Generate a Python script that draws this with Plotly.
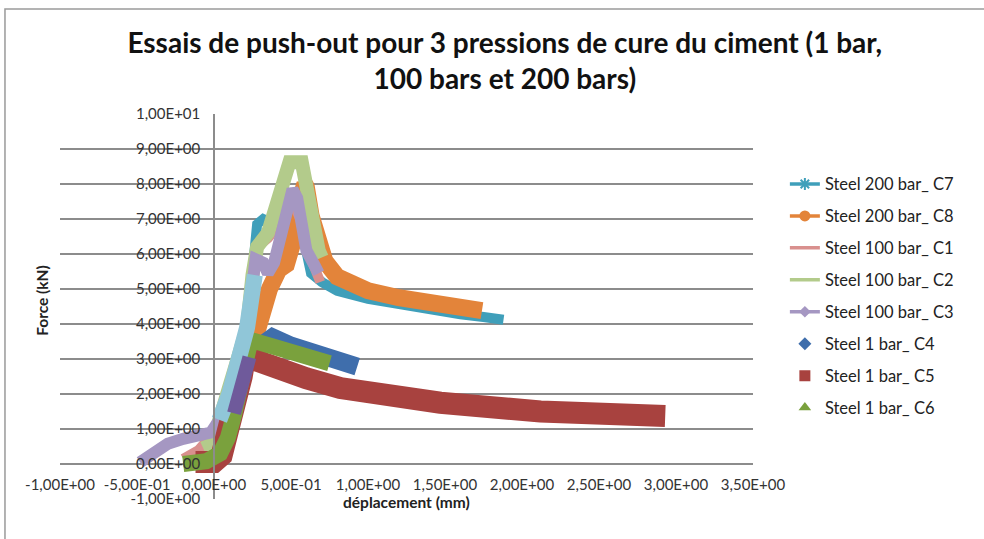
import plotly.graph_objects as go

# displacement (mm) / force (kN), one pair of lists per test
c7_x = [-0.05, 0.035, 0.1, 0.215, 0.24, 0.26, 0.28, 0.32, 0.37, 0.41, 0.45, 0.51, 0.54, 0.56, 0.6, 0.63, 0.7, 0.8, 1.0, 1.2, 1.4, 1.6, 1.75, 1.88]
c7_y = [0.1, 1.26, 2.0, 3.9, 5.0, 6.0, 6.85, 7.0, 6.9, 7.0, 6.8, 7.6, 7.4, 6.9, 6.0, 5.45, 5.2, 4.95, 4.72, 4.55, 4.4, 4.28, 4.2, 4.12]

c8_x = [0.22, 0.25, 0.3, 0.36, 0.42, 0.47, 0.51, 0.54, 0.59, 0.6, 0.63, 0.67, 0.72, 0.8, 0.9, 1.0, 1.2, 1.4, 1.6, 1.74]
c8_y = [2.9, 3.4, 4.2, 5.0, 5.55, 5.7, 6.3, 7.3, 8.0, 7.9, 7.1, 6.4, 5.8, 5.35, 5.1, 4.95, 4.75, 4.6, 4.47, 4.38]

c1_x = [-0.2, -0.1, 0.0, 0.035, 0.1, 0.215, 0.25, 0.28, 0.35, 0.45, 0.51, 0.56, 0.6, 0.65, 0.69]
c1_y = [0.15, 0.4, 0.9, 1.26, 2.0, 3.9, 5.5, 6.2, 6.45, 7.0, 7.5, 7.0, 6.2, 5.6, 5.2]

c2_x = [-0.07, -0.02, 0.01, 0.035, 0.1, 0.215, 0.25, 0.28, 0.35, 0.42, 0.49, 0.57, 0.6, 0.64, 0.68, 0.7]
c2_y = [0.45, 0.55, 0.9, 1.26, 2.0, 3.9, 5.4, 6.2, 6.6, 7.6, 8.62, 8.62, 7.8, 6.8, 6.1, 5.9]

c3_x = [-0.48, -0.4, -0.3, -0.2, -0.1, -0.02, 0.035, 0.1, 0.215, 0.245, 0.27, 0.32, 0.35, 0.39, 0.45, 0.51, 0.54, 0.56, 0.6, 0.65, 0.68]
c3_y = [0.05, 0.3, 0.58, 0.72, 0.8, 0.9, 1.26, 2.0, 3.9, 5.2, 5.85, 5.75, 5.45, 5.75, 6.8, 7.85, 7.6, 6.9, 6.1, 5.7, 5.45]

c4_x = [0.28, 0.38, 0.5, 0.65, 0.8, 0.9, 0.93]
c4_y = [3.3, 3.62, 3.38, 3.17, 2.98, 2.85, 2.78]

c5_x = [-0.12, 0.0, 0.05, 0.08, 0.115, 0.18, 0.21, 0.24, 0.28, 0.4, 0.6, 0.82, 1.0, 1.47, 2.12, 2.5, 2.93]
c5_y = [0.06, 0.06, 0.25, 0.7, 1.5, 2.5, 3.3, 3.55, 2.95, 2.7, 2.45, 2.17, 2.03, 1.75, 1.5, 1.42, 1.37]

c6_x = [-0.2, -0.05, 0.04, 0.09, 0.13, 0.18, 0.23, 0.27, 0.45, 0.6, 0.75]
c6_y = [0.0, 0.08, 0.3, 0.75, 1.4, 2.5, 3.4, 3.5, 3.25, 3.07, 2.88]

# two unlabelled series that show in the plot but not in the legend
extra_blue_x = [0.035, 0.1, 0.215, 0.265]
extra_blue_y = [1.26, 2.0, 3.9, 5.4]
extra_purple_x = [0.13, 0.2, 0.23]
extra_purple_y = [1.45, 2.5, 3.05]

y_ticks = [10, 9, 8, 7, 6, 5, 4, 3, 2, 1, 0, -1]
y_labels = ["1,00E+01", "9,00E+00", "8,00E+00", "7,00E+00", "6,00E+00", "5,00E+00",
            "4,00E+00", "3,00E+00", "2,00E+00", "1,00E+00", "0,00E+00", "-1,00E+00"]
x_ticks = [-1, -0.5, 0, 0.5, 1, 1.5, 2, 2.5, 3, 3.5]
x_labels = ["-1,00E+00", "-5,00E-01", "0,00E+00", "5,00E-01", "1,00E+00",
            "1,50E+00", "2,00E+00", "2,50E+00", "3,00E+00", "3,50E+00"]

FONT = "Lato, 'Open Sans', sans-serif"
GRID = "#8c8c8c"

series = [
    # name, x, y, colour, band width, legend style
    ("Steel 200 bar_ C7", c7_x, c7_y, "#3f9fba", 10, dict(mode="lines+markers", marker=dict(symbol="asterisk-open", size=10, line=dict(width=2, color="#3f9fba")))),
    ("Steel 200 bar_ C8", c8_x, c8_y, "#e3843a", 17, dict(mode="lines+markers", marker=dict(symbol="circle", size=11))),
    ("Steel 100 bar_ C1", c1_x, c1_y, "#d9908e", 10, dict(mode="lines")),
    ("Steel 100 bar_ C2", c2_x, c2_y, "#b3cb8b", 14, dict(mode="lines")),
    ("Steel 100 bar_ C3", c3_x, c3_y, "#a597c2", 12, dict(mode="lines+markers", marker=dict(symbol="diamond", size=9))),
    ("Steel 1 bar_ C4", c4_x, c4_y, "#3f6eac", 18, dict(mode="markers", marker=dict(symbol="diamond", size=10))),
    ("Steel 1 bar_ C5", c5_x, c5_y, "#a8423f", 22, dict(mode="markers", marker=dict(symbol="square", size=11))),
    ("Steel 1 bar_ C6", c6_x, c6_y, "#7aa13d", 16, dict(mode="markers", marker=dict(symbol="triangle-up", size=11))),
]

fig = go.Figure()

for name, xs, ys, color, width, _ in series:
    fig.add_trace(go.Scatter(x=xs, y=ys, mode="lines", line=dict(color=color, width=width),
                             showlegend=False, hoverinfo="skip", legendgroup=name))

fig.add_trace(go.Scatter(x=extra_blue_x, y=extra_blue_y, mode="lines",
                         line=dict(color="#90c6d8", width=16), showlegend=False))
fig.add_trace(go.Scatter(x=extra_purple_x, y=extra_purple_y, mode="lines",
                         line=dict(color="#6f5a9b", width=14), showlegend=False))

# legend entries with the Excel-like symbols
for name, xs, ys, color, width, style in series:
    style = dict(style)
    marker = dict(style.pop("marker", {}))
    marker.setdefault("color", color)
    fig.add_trace(go.Scatter(x=[None], y=[None], name=name, legendgroup=name,
                             line=dict(color=color, width=3.5), marker=marker, **style))

fig.update_layout(
    width=984,
    height=539,
    margin=dict(l=60, r=231, t=114, b=40, autoexpand=False),
    paper_bgcolor="white",
    plot_bgcolor="white",
    font=dict(family=FONT, color="#333333", size=15),
    title=dict(
        text="Essais de push-out pour 3 pressions de cure du ciment (1 bar,<br>100 bars et 200 bars)",
        font=dict(family=FONT, size=28, color="#111111", weight="bold"),
        x=0.513, xref="container", xanchor="center",
        y=0.902, yref="container", yanchor="top",
    ),
    xaxis=dict(
        range=[-1, 3.5], tickvals=x_ticks, ticktext=x_labels,
        showgrid=False, zeroline=False, showline=False,
        anchor="free", position=1 / 11, ticks="", ticklabelstandoff=10,
        tickfont=dict(size=15, color="#333333"),
    ),
    yaxis=dict(
        range=[-1, 10], tickvals=y_ticks, ticktext=y_labels,
        showgrid=True, gridcolor=GRID, gridwidth=1.5, zeroline=False,
        showline=True, linecolor=GRID, linewidth=1.5,
        anchor="free", position=1 / 4.5, ticks="", ticklabelstandoff=10,
        tickfont=dict(size=15, color="#333333"),
    ),
    legend=dict(
        x=1.046, y=0.863, xanchor="left", yanchor="top",
        font=dict(family=FONT, size=16.5, color="#222222"),
        tracegroupgap=7.5, bgcolor="rgba(0,0,0,0)",
    ),
    annotations=[
        dict(text="<b>Force (kN)</b>", textangle=-90, x=-0.042, y=0.517, xref="paper", yref="paper",
             showarrow=False, font=dict(family=FONT, size=15.5, color="#222222")),
        dict(text="<b>déplacement (mm)</b>", x=0.5, y=-0.036, xref="paper", yref="paper",
             showarrow=False, font=dict(family=FONT, size=15.5, color="#222222")),
    ],
    shapes=[
        # chart area frame (Excel style), open to the right and bottom
        dict(type="rect", xref="paper", yref="paper", x0=-0.0794, x1=1.6, y0=-0.6, y1=1.2727,
             line=dict(color="#9a9a9a", width=1.5), fillcolor="rgba(0,0,0,0)", layer="below"),
    ],
)

# drop the browser's default body margin so the 984x539 figure fills the window
fig.write_html("out.html", config={"displayModeBar": False},
               post_script="document.body.style.margin='0';")
